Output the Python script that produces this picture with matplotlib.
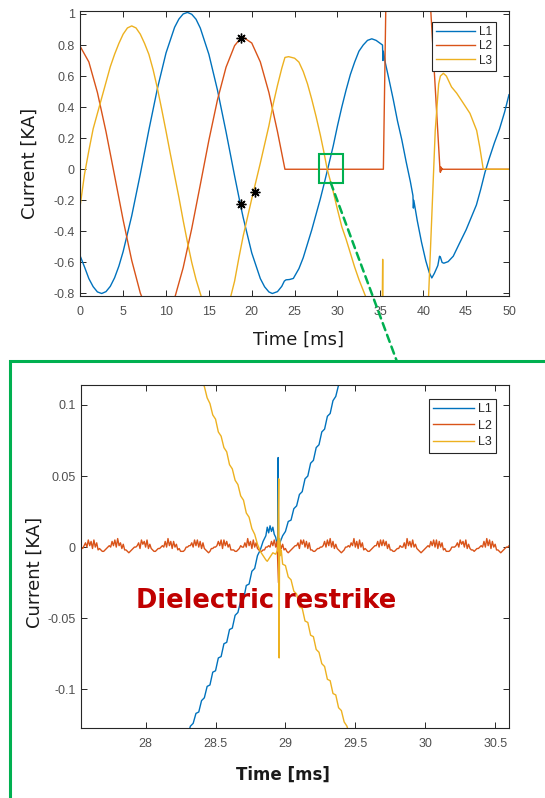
import numpy as np
import matplotlib
matplotlib.use('Agg')
import matplotlib.pyplot as plt
from matplotlib.patches import Rectangle, ConnectionPatch

plt.rcParams['axes.unicode_minus'] = False

C1, C2, C3 = '#0072BD', '#D95319', '#EDB120'
GREEN = '#00B050'

# ---- overview: 0..50 ms, current in kA ----
l1_t = [0, 0.5, 1, 1.5, 2, 2.5, 3, 3.5, 4, 4.5, 5, 6, 7, 8, 9, 10, 11, 11.5, 12, 12.5,
        13, 13.5, 14, 15, 16, 17, 18, 18.7, 19, 20, 21, 21.5, 22, 22.4, 23, 23.5, 23.8, 24.0, 24.4, 24.85,
        25.5, 26, 26.5, 27, 27.5, 28, 28.5, 28.85, 29.5, 30, 30.5, 31, 31.5, 32, 32.5, 33, 33.5, 34, 34.5, 35,
        35.25, 35.3, 35.35, 35.6, 36, 36.5, 37, 37.5, 38, 38.5, 38.8, 38.85, 38.9, 39.3, 39.8, 40.3, 40.7, 41.0,
        41.3, 41.7, 41.9, 42.0, 42.2, 42.4, 42.9, 43.5, 44.2, 45.0, 45.6, 46.2, 46.7, 47.2, 47.7, 48.3, 48.9,
        49.5, 50]
l1_i = [-0.56, -0.63, -0.704, -0.756, -0.79, -0.80, -0.788, -0.754, -0.699, -0.624, -0.53, -0.30, -0.031,
        0.253, 0.521, 0.749, 0.914, 0.967, 1.0, 1.01, 0.998, 0.966, 0.909, 0.740, 0.510, 0.241, -0.043, -0.234,
        -0.311, -0.539, -0.704, -0.757, -0.79, -0.80, -0.788, -0.754, -0.72, -0.712, -0.71, -0.703,
        -0.64, -0.57, -0.48, -0.39, -0.29, -0.19, -0.08, 0.0, 0.15, 0.28, 0.40, 0.51, 0.61, 0.69, 0.76, 0.80,
        0.83, 0.84, 0.83, 0.81, 0.80, 0.70, 0.76, 0.68, 0.58, 0.45, 0.31, 0.19, 0.05, -0.08, -0.17, -0.25, -0.20,
        -0.33, -0.47, -0.59, -0.665, -0.70, -0.67, -0.62, -0.56, -0.565, -0.60, -0.605, -0.595, -0.56, -0.48,
        -0.39, -0.31, -0.23, -0.13, -0.02, 0.07, 0.17, 0.26, 0.37, 0.48]

l2_t = [0, 1, 2, 3, 4, 5, 6, 7, 8, 9, 10, 11, 12, 13, 14, 15, 16, 17, 18, 18.7, 19, 20, 21, 22, 23, 23.87,
        35.35, 35.65, 36.2, 38.5, 40.5, 40.85, 41.95, 42.0, 42.05, 42.1, 42.2, 42.3, 50]
l2_i = [0.79, 0.691, 0.494, 0.242, -0.041, -0.327, -0.587, -0.797, -0.936, -0.990, -0.953, -0.831, -0.634,
        -0.382, -0.099, 0.187, 0.447, 0.657, 0.796, 0.843, 0.850, 0.813, 0.691, 0.494, 0.242, 0.0,
        0.0, 1.1, 1.6, 1.9, 1.5, 1.05, 0.0, -0.02, 0.015, -0.01, 0.005, 0.0, 0.0]

l3_t = [0, 0.5, 1, 1.5, 2, 2.5, 3, 3.5, 4, 4.5, 5, 5.5, 6, 6.5, 7, 7.5, 8, 8.5, 9, 9.5, 10, 10.5, 11, 11.5,
        12, 12.5, 13, 13.5, 14, 14.5, 15, 15.5, 16, 16.5, 17, 17.5, 18, 18.5, 19, 19.5, 20, 20.5, 21, 21.5, 22,
        22.5, 23, 23.5, 23.87, 24.3, 24.8, 25.0, 25.5, 26, 26.5, 27, 27.5, 28, 28.4, 28.8, 29.44, 30, 30.5, 31,
        31.5, 32, 32.5, 33, 33.5, 34, 35.2, 35.27, 35.32, 36.5, 38, 39.5, 40.3, 40.6, 41.0, 41.4, 41.8, 42.0,
        42.35, 42.7, 43.3, 43.9, 44.5, 45.45, 46.23, 46.6, 47.0, 50]
l3_i = [-0.23, -0.03, 0.12, 0.26, 0.36, 0.46, 0.56, 0.66, 0.74, 0.81, 0.87, 0.91, 0.923, 0.91, 0.87, 0.81,
        0.74, 0.64, 0.52, 0.385, 0.245, 0.10, -0.04, -0.18, -0.33, -0.47, -0.60, -0.71, -0.80, -0.89, -0.95,
        -0.98, -0.98, -0.95, -0.89, -0.83, -0.72, -0.57, -0.43, -0.31, -0.19, -0.075, 0.04, 0.16, 0.28, 0.42,
        0.54, 0.65, 0.72, 0.725, 0.718, 0.715, 0.69, 0.63, 0.55, 0.45, 0.34, 0.22, 0.114, 0.0, -0.13, -0.26,
        -0.37, -0.45, -0.54, -0.63, -0.71, -0.78, -0.85, -0.90, -0.97, -0.58, -0.99, -1.02, -1.0, -0.97, -0.94,
        -0.85, -0.30, 0.25, 0.55, 0.60, 0.618, 0.60, 0.53, 0.49, 0.44, 0.36, 0.25, 0.14, 0.0, 0.0]

# asterisk markers
star_t = [18.7, 18.74, 20.38]
star_i = [0.843, -0.225, -0.144]

top_xticks = [0, 5, 10, 15, 20, 25, 30, 35, 40, 45, 50]
top_yticks = [-0.8, -0.6, -0.4, -0.2, 0, 0.2, 0.4, 0.6, 0.8, 1]
top_ylabels = ['-0.8', '-0.6', '-0.4', '-0.2', '0', '0.2', '0.4', '0.6', '0.8', '1']

# ---- zoom around the restrike, current in mA (x1e-3 kA) ----
b_pre = [-133, -126, -124, -117, -116, -108, -106, -98, -97, -88, -87, -78, -77, -68, -67, -58, -57,
         -48, -46, -38, -37, -27, -26, -17, -15, -6, -2]                      # 28.30 .. 28.82
b_mid_t = [28.84, 28.86, 28.87, 28.88, 28.89, 28.90, 28.91, 28.92, 28.93, 28.94, 28.945, 28.948,
           28.951, 28.955, 28.96]
b_mid = [4, 8, 14, 10, 15, 11, 14, 9, 7, 2, 3, 63, -2, 5, 3]
b_post = [8, 11, 18, 19, 27, 29, 37, 39, 48, 50, 59, 61, 70, 72, 81, 83, 92, 94, 103, 106, 114, 118]  # 28.98 .. 29.40

y_pre = [122, 117, 113, 105, 101, 93, 90, 81, 78, 70, 67, 58, 55, 47, 44, 36, 33, 24, 21, 13,
         9, 2, -3, -6, -9]                                                     # 28.38 .. 28.86
y_mid_t = [28.87, 28.89, 28.91, 28.93, 28.945, 28.952, 28.955, 28.958, 28.963, 28.97]
y_mid = [-10, -7, -4, -5, -2, 48, -78, 6, -6, -2]
y_post = [-12, -13, -21, -23, -31, -33, -42, -43, -52, -53, -62, -63, -72, -74, -82, -84, -93, -94,
          -103, -104, -113, -115, -123, -126, -133]                            # 28.98 .. 29.46

# L2 sampled every 0.01 ms from 27.54 ms
o_z = [0, -1, 1,
       3, 0, 5, 1, 4, -1, 5, 0, 3, -2, -1, -2, -3, -3, -2, -1, 0, 1, 0,
       4, 1, 5, 0, 6, 1, 3, -1, 2, -2, -2, -3, -4, -3, -2, -1, 0, 0, 1,
       3, -1, 5, 2, 4, 0, 5, -1, 2, -1, -2, -3, -3, -2, -1, -1, 0, 1, 0,
       4, 0, 6, 1, 4, -1, 4, 0, 2, -2, -1, -3, -3, -3, -2, 0, 0, 1, 1,
       3, 0, 5, 1, 5, 0, 4, -1, 3, -1, -2, -3, -4, -3, -1, -1, 0, 0, 1,
       4, 1, 5, -1, 5, 1, 4, 0, 2, -2, -2, -2, -3, -3, -2, -1, 1, 0, 0,
       3, 0, 6, 1, 4, -1, 5, 0, 3, -1, -2, -3, -3, -2, -2, 0, 0, 1, 0,
       4, 1, 5, 0, 4, -25, 3, -1, 2, -2, -1, -3, -4, -3, -2, -1, 0, 1, 1,
       3, -1, 5, 2, 5, 0, 4, -1, 3, -2, -2, -3, -3, -2, -1, -1, 0, 0, 1,
       4, 0, 5, 1, 6, 0, 4, -1, 2, -1, -2, -3, -4, -3, -2, 0, 0, 1, 0,
       3, 1, 6, 0, 4, -1, 5, 0, 3, -2, -1, -2, -3, -3, -2, -1, 0, 1, 1,
       4, 0, 5, 1, 5, 1, 4, -1, 2, -2, -2, -3, -3, -2, -1, -1, 1, 0, 0,
       3, -1, 6, 1, 4, 0, 5, 0, 2, -1, -2, -3, -4, -3, -2, -1, 0, 1, 0,
       4, 1, 5, 0, 5, -1, 4, 0, 3, -2, -1, -3, -3, -3, -2, 0, 0, 0, 1,
       3, 0, 5, 2, 4, 0, 5, -1, 2, -1, -2, -2, -3, -2, -1, -1, 0, 1, 0,
       4, 0, 6, 1, 5, -1, 4, 0, 2, -2, -2, -3, -4, -3, -2, -1, 0, 0, 1]

zoom_xticks = [28, 28.5, 29, 29.5, 30, 30.5]
zoom_xlabels = ['28', '28.5', '29', '29.5', '30', '30.5']
zoom_yticks = [-0.1, -0.05, 0, 0.05, 0.1]
zoom_ylabels = ['-0.1', '-0.05', '0', '0.05', '0.1']

# assemble the zoom series
b_t = np.concatenate([28.30 + 0.02 * np.arange(len(b_pre)), b_mid_t, 28.98 + 0.02 * np.arange(len(b_post))])
b_i = np.array(b_pre + b_mid + b_post) * 1e-3
y_t = np.concatenate([28.38 + 0.02 * np.arange(len(y_pre)), y_mid_t, 28.98 + 0.02 * np.arange(len(y_post))])
y_i = np.array(y_pre + y_mid + y_post) * 1e-3
o_t = 27.54 + 0.01 * np.arange(len(o_z))
o_i = np.array(o_z) * 1e-3


def style_axes(ax):
    for s in ax.spines.values():
        s.set_color('#262626')
        s.set_linewidth(0.8)
    ax.tick_params(direction='in', top=True, right=True, length=4, width=0.7,
                   colors='#262626', labelcolor='#505050', labelsize=9)
    ax.tick_params(axis='x', pad=7)
    ax.tick_params(axis='y', pad=4)
    for lab in ax.get_xticklabels() + ax.get_yticklabels():
        lab.set_fontfamily('Liberation Sans')


def add_legend(ax, anchor, fs, spacing):
    leg = ax.legend(['L1', 'L2', 'L3'], loc='upper right', bbox_to_anchor=anchor,
                    prop={'family': 'Liberation Sans', 'size': fs}, fancybox=False,
                    edgecolor='#262626', framealpha=1, borderaxespad=0, borderpad=0.35,
                    labelspacing=spacing, handlelength=3.3, handletextpad=0.3)
    leg.get_frame().set_linewidth(0.8)
    for t in leg.get_texts():
        t.set_color('#262626')


fig = plt.figure(figsize=(5.45, 7.98), dpi=100)
ax1 = fig.add_axes([0.1473, 0.6291, 0.7866, 0.3571])
ax2 = fig.add_axes([0.1492, 0.0873, 0.785, 0.4302])

# top: whole record
ax1.plot(l1_t, l1_i, color=C1, lw=1.0)
ax1.plot(l2_t, l2_i, color=C2, lw=1.0)
ax1.plot(l3_t, l3_i, color=C3, lw=1.0)
ax1.plot(star_t, star_i, linestyle='none', marker=(8, 2, 0), markersize=7,
         markeredgewidth=1.0, color='black')
ax1.set_xlim(0, 50)
ax1.set_ylim(-0.816, 1.019)
ax1.set_xticks(top_xticks)
ax1.set_yticks(top_yticks, top_ylabels)
style_axes(ax1)
ax1.set_xlabel('Time [ms]', fontsize=13, color='#1a1a1a')
ax1.xaxis.set_label_coords(0.51, -0.123)
ax1.set_ylabel('Current [KA]', fontsize=13, color='#1a1a1a')
ax1.yaxis.set_label_coords(-0.096, 0.465)
add_legend(ax1, (0.97, 0.9625), 8.5, 0.2)
ax1.add_patch(Rectangle((27.88, -0.09), 2.79, 0.1885, fill=False, edgecolor=GREEN, lw=1.5, zorder=5))

# bottom: zoom around the restrike
ax2.plot(b_t, b_i, color=C1, lw=1.0)
ax2.plot(o_t, o_i, color=C2, lw=1.0)
ax2.plot(y_t, y_i, color=C3, lw=1.0)
ax2.set_xlim(27.54, 30.6)
ax2.set_ylim(-0.1275, 0.114)
ax2.set_xticks(zoom_xticks, zoom_xlabels)
ax2.set_yticks(zoom_yticks, zoom_ylabels)
style_axes(ax2)
ax2.set_xlabel('Time [ms]', fontsize=12, fontweight='bold', color='#1a1a1a')
ax2.xaxis.set_label_coords(0.471, -0.11)
ax2.set_ylabel('Current [KA]', fontsize=13, color='#1a1a1a')
ax2.yaxis.set_label_coords(-0.0886, 0.455)
add_legend(ax2, (0.97, 0.959), 9, 0.35)
ax2.text(28.86, -0.038, 'Dielectric restrike', ha='center', va='center', fontsize=18.5,
         fontweight='bold', color='#C00000', zorder=6)

# green frame around the zoom panel and the dashed connector
fig.add_artist(Rectangle((0.0178, -0.1), 1.2, 0.6476, transform=fig.transFigure,
                         fill=False, edgecolor=GREEN, lw=2.2))
con = ConnectionPatch(xyA=(29.2, -0.085), coordsA=ax1.transData,
                      xyB=(0.728, 0.5476), coordsB=fig.transFigure,
                      color=GREEN, lw=1.8, linestyle=(0, (3, 2)))
fig.add_artist(con)

fig.savefig('out.png', dpi=100)
